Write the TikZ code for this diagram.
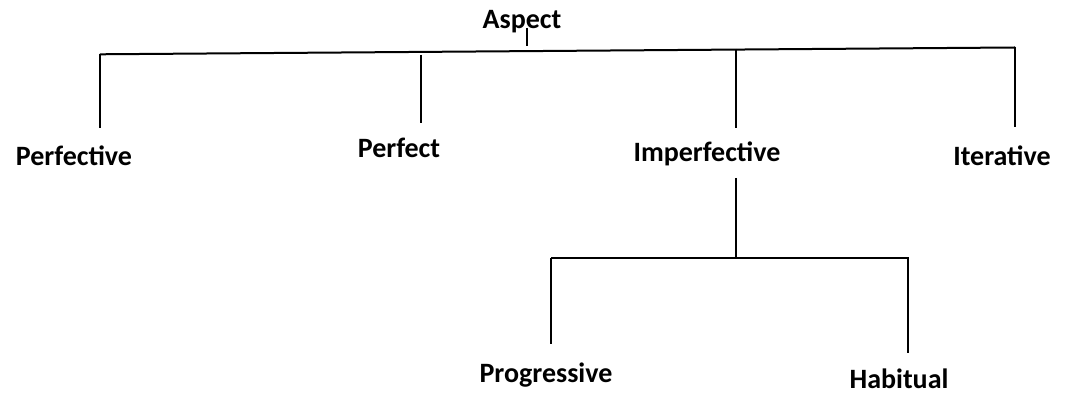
\documentclass[tikz,border=0pt]{standalone}
\usepackage{fontspec}
\setmainfont{Carlito}
\usepackage{tikz}

\begin{document}
\begin{tikzpicture}[x=0.5pt, y=-0.5pt, line width=1pt,
    every node/.style={anchor=base, inner sep=0pt, font=\fontsize{14}{17}\selectfont\bfseries}]
        \useasboundingbox (0,0) rectangle (1069,394);
        % labels
        \node (aspect) at (522, 29) {Aspect};
        \node (perfective) at (74, 166) {Perfective};
        \node (perfect) at (399, 158) {Perfect};
        \node (imperfective) at (707, 162) {Imperfective};
        \node (iterative) at (1002, 166) {Iterative};
        \node (progressive) at (546, 383) {Progressive};
        \node (habitual) at (899, 389) {Habitual};
        % top bar and its branches
        \coordinate (topA) at (527, 28);
        \coordinate (topB) at (527, 46);
        \coordinate (barL) at (100, 54.3);
        \coordinate (barR) at (1015, 47.5);
        \coordinate (perfectiveEnd) at (100, 128);
        \coordinate (perfectTop) at (421, 55);
        \coordinate (perfectEnd) at (421, 123);
        \coordinate (imperfTop) at (736, 49);
        \coordinate (imperfEnd) at (736, 128);
        \coordinate (iterativeEnd) at (1015, 127);
        \draw (topA) -- (topB);
        \draw (barL) -- (barR);
        \draw (barL) -- (perfectiveEnd);
        \draw (perfectTop) -- (perfectEnd);
        \draw (imperfTop) -- (imperfEnd);
        \draw (barR) -- (iterativeEnd);
        % lower bar under Imperfective
        \coordinate (subTop) at (736, 178);
        \coordinate (subMid) at (736, 258);
        \coordinate (subL) at (551, 258);
        \coordinate (subR) at (909, 258);
        \coordinate (progressiveEnd) at (551, 344);
        \coordinate (habitualTop) at (908, 258);
        \coordinate (habitualEnd) at (908, 353);
        \draw (subTop) -- (subMid);
        \draw (subL) -- (subR);
        \draw (subL) -- (progressiveEnd);
        \draw (habitualTop) -- (habitualEnd);
    \end{tikzpicture}
\end{document}
